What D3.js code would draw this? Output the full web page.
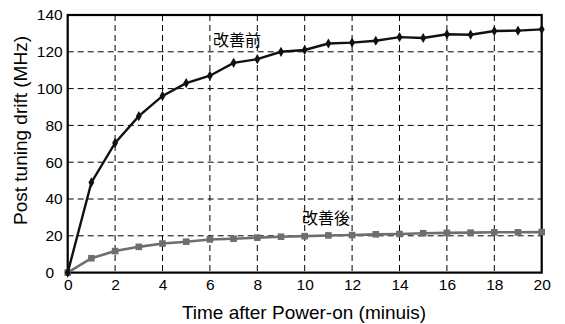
<!DOCTYPE html>
<html><head><meta charset="utf-8">
<script src="https://cdn.jsdelivr.net/npm/d3@7"></script>
<style>body{margin:0;background:#fff}svg{display:block}</style>
</head><body>
<svg id="c" width="565" height="324"></svg>
<script>
const times = d3.range(0, 21);
const before = [0,49,70.5,85,96,103,107,114,116,120,121,124.5,125,126,128,127.5,129.5,129.3,131.3,131.5,132.2];
const after = [0,7.8,11.7,14,15.8,16.8,18,18.4,19,19.5,19.8,20.2,20.4,20.8,21,21.4,21.6,21.7,21.9,21.9,22];
const xTicks = [0,2,4,6,8,10,12,14,16,18,20];
const yTicks = [0,20,40,60,80,100,120,140];
const labelBefore = "改善前", labelAfter = "改善後";
const xTitle = "Time after Power-on (minuis)", yTitle = "Post tuning drift (MHz)";

const svg = d3.select("#c");
const L=67.7, R=541.7, T=15, B=272.6;
const x = d3.scaleLinear().domain([0,20]).range([L,R]);
const y = d3.scaleLinear().domain([0,140]).range([B,T]);
const font = "'Liberation Sans', Arial, sans-serif";

// grid
const g = svg.append("g");
g.selectAll("line.v").data(xTicks.slice(1,-1)).join("line")
  .attr("x1",d=>x(d)).attr("x2",d=>x(d)).attr("y1",T).attr("y2",B)
  .attr("stroke","#000").attr("stroke-width",1).attr("stroke-dasharray","6,4");
g.selectAll("line.h").data(yTicks.slice(1,-1)).join("line")
  .attr("y1",d=>y(d)).attr("y2",d=>y(d)).attr("x1",L).attr("x2",R)
  .attr("stroke","#000").attr("stroke-width",1).attr("stroke-dasharray","6,4");

// axes
const xa = svg.append("g").attr("transform",`translate(0,${B})`)
  .call(d3.axisBottom(x).tickValues(xTicks).tickSize(0).tickPadding(6));
const ya = svg.append("g").attr("transform",`translate(${L},0)`)
  .call(d3.axisLeft(y).tickValues(yTicks).tickSize(0).tickPadding(5));
[xa,ya].forEach(a=>{a.select(".domain").remove();
  a.selectAll("text").attr("font-family",font).attr("font-size",15.5).attr("fill","#000");});
ya.selectAll(".tick").filter(d=>d===0).select("text").attr("x",-13.5);

// frame
svg.append("rect").attr("x",L).attr("y",T).attr("width",R-L).attr("height",B-T)
  .attr("fill","none").attr("stroke","#000").attr("stroke-width",2.2);

const line = d3.line().x((d,i)=>x(times[i])).y(d=>y(d));
// after (gray)
svg.append("path").datum(after).attr("d",line).attr("fill","none")
  .attr("stroke","#6e6e6e").attr("stroke-width",2.6);
svg.selectAll("rect.a").data(after).join("rect")
  .attr("x",(d,i)=>x(times[i])-3.3).attr("y",d=>y(d)-3.3).attr("width",6.6).attr("height",6.6)
  .attr("fill","#6e6e6e");
// before (black)
svg.append("path").datum(before).attr("d",line).attr("fill","none")
  .attr("stroke","#111").attr("stroke-width",2.4);
svg.selectAll("path.b").data(before).join("path")
  .attr("d",d3.symbol(d3.symbolDiamond,30))
  .attr("transform",(d,i)=>`translate(${x(times[i])},${y(d)})`).attr("fill","#111");

// labels
svg.append("text").attr("x",213).attr("y",46).text(labelBefore)
  .attr("font-family","'Noto Sans CJK JP', sans-serif").attr("font-size",16);
svg.append("text").attr("x",302).attr("y",224).text(labelAfter)
  .attr("font-family","'Noto Sans CJK JP', sans-serif").attr("font-size",16);

svg.append("text").attr("x",304).attr("y",319).attr("text-anchor","middle")
  .attr("font-family",font).attr("font-size",19).text(xTitle);
svg.append("text").attr("transform",`translate(27,130.5) rotate(-90)`).attr("text-anchor","middle")
  .attr("font-family",font).attr("font-size",19).text(yTitle);
</script>
</body></html>
